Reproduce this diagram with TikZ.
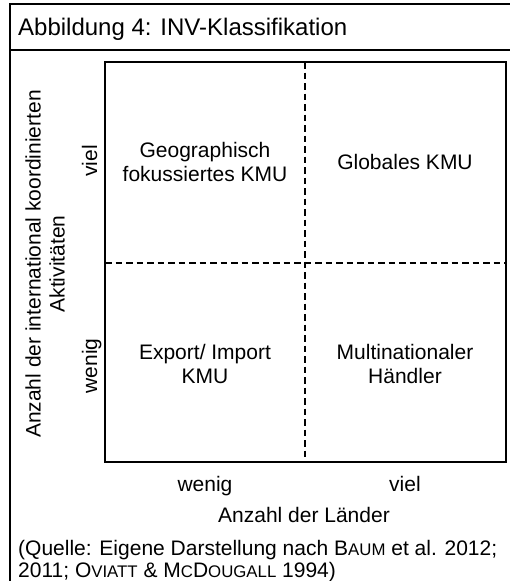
\documentclass[tikz,border=0pt]{standalone}
\usepackage{fontspec}
\setmainfont{Liberation Sans}
% faked small capitals for author names
\newcommand\smcaps[1]{{\fontsize{16.8}{24}\selectfont\MakeUppercase{#1}}}
\begin{document}
\begin{tikzpicture}[x=1pt,y=-1pt,
  frame/.style={line width=2.4pt},
  matrixbox/.style={line width=2.8pt},
  divider/.style={line width=1.8pt, dash pattern=on 6.5pt off 4pt},
  lbl/.style={font=\fontsize{21}{24}\selectfont, align=center, inner sep=0pt},
  title/.style={font=\fontsize{24}{28}\selectfont, inner sep=0pt, anchor=base west},
  src/.style={font=\fontsize{21}{24}\selectfont, inner sep=0pt, anchor=base west},
]
\useasboundingbox (0,0) rectangle (510,581);
\fill[white] (0,0) rectangle (510,581);

% figure frame and title bar
\draw[frame] (10,581) -- (10,4) -- (510,4);
\draw[frame] (10,50) -- (510,50);
\node[title] (ttl) at (18,35) {Abbildung 4: INV-Klassifikation};

% portfolio matrix
\coordinate (nw) at (105,62);
\coordinate (se) at (506,462);
\coordinate (mt) at (305,62);
\coordinate (mb) at (305,462);
\coordinate (ml) at (105,263);
\coordinate (mr) at (506,263);
\draw[divider] (mt) -- (mb);
\draw[divider] (ml) -- (mr);
\draw[matrixbox] (nw) rectangle (se);

% quadrant labels
\node[lbl] (q1) at (205,162) {Geographisch\\fokussiertes KMU};
\node[lbl] (q2) at (405,162) {Globales KMU};
\node[lbl] (q3) at (205,364) {Export/ Import\\KMU};
\node[lbl] (q4) at (405,364) {Multinationaler\\Händler};

% vertical axis
\node[lbl, rotate=90, anchor=base] (yhi) at (97,161) {viel};
\node[lbl, rotate=90, anchor=base] (ylo) at (97,366) {wenig};
\node[lbl, rotate=90] (yax) at (45,264) {Anzahl der international koordinierten\\Aktivitäten};

% horizontal axis
\node[lbl, anchor=base] (xlo) at (205,491) {wenig};
\node[lbl, anchor=base] (xhi) at (405,491) {viel};
\node[lbl, anchor=base] (xax) at (304,522) {Anzahl der Länder};

% source note
\node[src] (s1) at (18,555) {(Quelle: Eigene Darstellung nach B\smcaps{aum} et al. 2012;};
\node[src] (s2) at (18,577) {2011; O\smcaps{viatt} \& M\smcaps{c}D\smcaps{ougall} 1994)};
\end{tikzpicture}
\end{document}
